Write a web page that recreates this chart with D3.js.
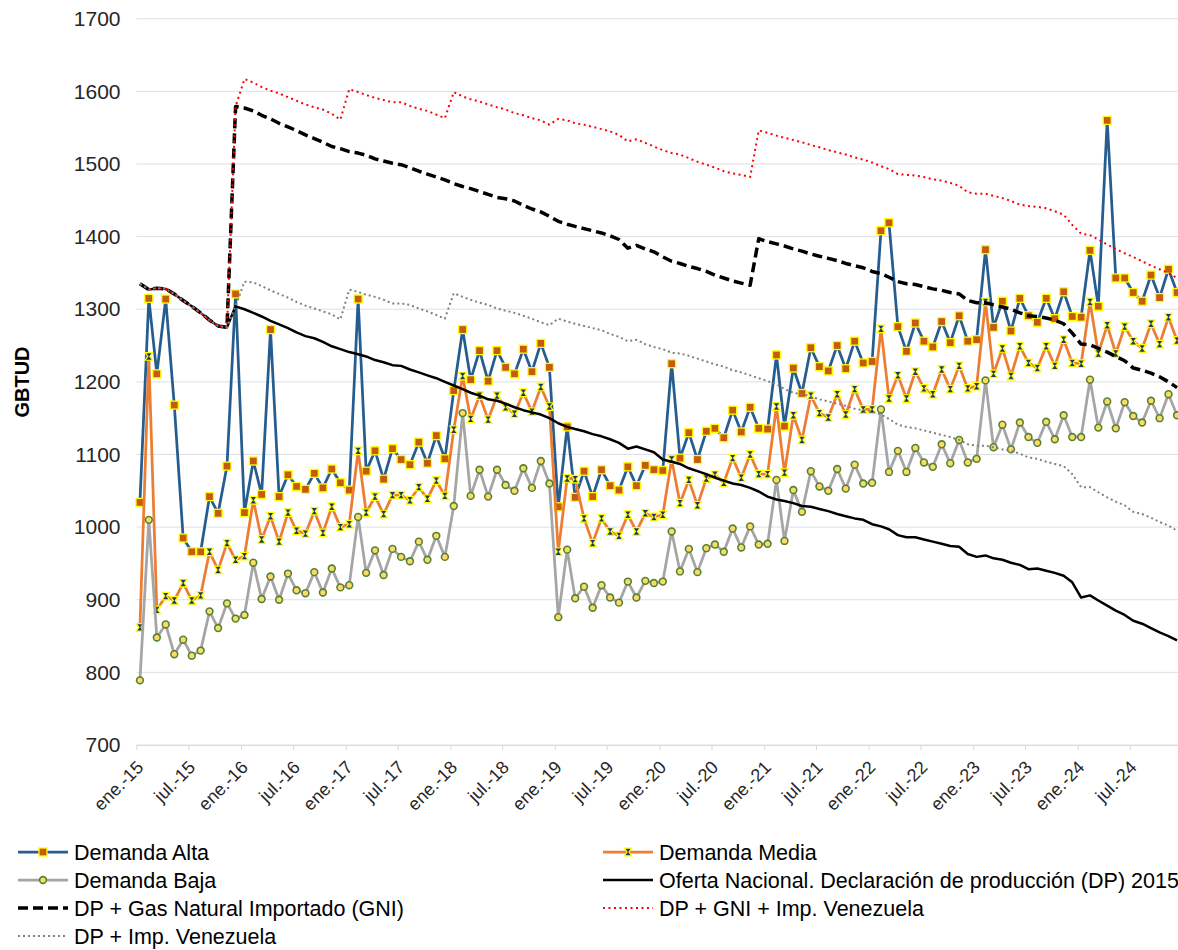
<!DOCTYPE html>
<html>
<head>
<meta charset="utf-8">
<script src="https://d3js.org/d3.v7.min.js"></script>
<style>
body { margin:0; background:#fff; }
text { font-family:"Liberation Sans", Arial, sans-serif; }
</style>
</head>
<body>
<svg id="chart"></svg>
<script>
// monthly values ene-15 .. dic-24 (GBTUD)
var demandaAlta = [1034,1315,1211,1314,1168,985,966,966,1042,1019,1084,1321,
1020,1091,1045,1272,1042,1072,1056,1052,1074,1054,1080,1061,
1051,1314,1077,1105,1066,1108,1093,1086,1117,1088,1126,1094,
1188,1272,1203,1243,1201,1243,1220,1211,1245,1214,1253,1220,
1028,1138,1041,1077,1042,1079,1057,1051,1083,1057,1085,1079,
1078,1225,1095,1130,1093,1132,1136,1123,1161,1131,1165,1136,
1135,1237,1139,1219,1184,1247,1221,1215,1250,1218,1256,1226,
1228,1408,1419,1276,1242,1281,1256,1248,1283,1254,1291,1256,
1258,1382,1275,1311,1270,1315,1291,1282,1315,1287,1324,1290,
1289,1381,1304,1560,1343,1343,1323,1311,1347,1316,1355,1323]

var demandaMedia = [862,1235,886,905,899,923,899,906,966,941,978,955,
960,1037,983,1015,980,1020,995,991,1022,992,1028,1000,
1004,1105,1020,1042,1018,1044,1044,1037,1055,1039,1064,1043,
1134,1208,1149,1181,1148,1181,1165,1156,1185,1159,1193,1166,
966,1067,1066,1012,978,1012,994,988,1017,994,1019,1014,
1017,1093,1033,1065,1030,1067,1072,1061,1095,1068,1100,1073,
1073,1166,1075,1154,1120,1181,1157,1151,1183,1155,1190,1162,
1162,1273,1177,1209,1177,1214,1191,1183,1217,1190,1222,1191,
1194,1310,1211,1246,1208,1249,1226,1219,1249,1222,1258,1226,
1225,1310,1239,1278,1239,1276,1256,1246,1280,1252,1289,1257]

var demandaBaja = [789,1010,848,866,825,845,823,830,884,861,895,874,
879,951,901,932,900,936,913,909,938,910,943,917,
920,1014,937,968,934,970,959,953,980,955,988,959,
1029,1157,1043,1079,1042,1079,1058,1050,1081,1054,1091,1060,
876,969,902,918,889,920,903,896,925,903,926,923,
925,994,939,970,938,971,976,966,998,972,1001,976,
977,1065,981,1051,1021,1077,1056,1050,1080,1053,1086,1060,
1061,1162,1076,1105,1076,1109,1089,1083,1114,1088,1120,1089,
1094,1202,1110,1141,1107,1144,1124,1116,1145,1121,1154,1124,
1124,1203,1137,1173,1136,1172,1153,1144,1174,1150,1183,1154]

var ofertaDP = [1335,1327,1329,1328,1321,1312,1304,1295,1285,1277,1275,1304,
1300,1295,1290,1284,1279,1274,1268,1263,1260,1255,1249,1245,
1241,1238,1235,1230,1227,1223,1222,1217,1213,1209,1205,1200,
1195,1190,1185,1181,1176,1174,1170,1165,1161,1158,1155,1150,
1143,1138,1135,1132,1128,1125,1121,1116,1108,1111,1107,1103,
1093,1090,1087,1081,1077,1073,1068,1064,1060,1058,1054,1049,
1042,1038,1036,1033,1029,1028,1025,1022,1018,1015,1012,1010,
1004,1001,997,989,986,986,983,980,977,974,973,963,
959,961,957,955,951,948,942,943,940,937,933,924,
903,906,899,892,885,879,871,867,861,855,850,844]

var dpGNI = [1335,1327,1329,1328,1321,1312,1304,1295,1285,1277,1275,1579,
1577,1573,1567,1562,1556,1551,1546,1540,1535,1530,1524,1521,
1517,1515,1512,1507,1504,1501,1499,1495,1490,1486,1482,1478,
1473,1469,1466,1462,1458,1454,1452,1449,1443,1438,1434,1428,
1421,1417,1414,1411,1408,1405,1401,1396,1384,1388,1383,1379,
1372,1366,1363,1359,1356,1352,1347,1343,1339,1336,1333,1397,
1393,1390,1387,1383,1380,1376,1373,1370,1367,1363,1360,1357,
1352,1349,1344,1338,1335,1334,1331,1328,1326,1323,1321,1312,
1309,1309,1306,1303,1300,1295,1291,1290,1288,1285,1280,1267,
1252,1251,1246,1241,1235,1229,1219,1216,1212,1207,1200,1192]

var dpGNIVen = [1335,1327,1329,1328,1321,1312,1304,1295,1285,1277,1275,1579,
1617,1612,1606,1601,1597,1592,1587,1582,1578,1575,1569,1561,
1603,1599,1595,1591,1588,1585,1585,1580,1576,1573,1568,1563,
1599,1593,1589,1586,1582,1578,1575,1570,1567,1563,1560,1554,
1562,1560,1556,1554,1551,1548,1545,1540,1531,1534,1529,1524,
1519,1515,1513,1508,1503,1499,1495,1490,1487,1485,1482,1546,
1543,1539,1536,1533,1530,1526,1523,1519,1516,1513,1509,1506,
1502,1497,1493,1486,1485,1484,1482,1479,1477,1474,1470,1461,
1459,1459,1456,1453,1449,1444,1442,1441,1439,1435,1430,1416,
1404,1402,1396,1389,1383,1377,1372,1366,1360,1355,1350,1343]

var dpVen = [1335,1327,1329,1328,1321,1312,1304,1295,1285,1277,1275,1304,
1338,1337,1332,1326,1321,1316,1310,1305,1301,1297,1293,1286,
1327,1324,1320,1317,1313,1308,1308,1306,1301,1297,1292,1287,
1322,1317,1313,1309,1306,1301,1298,1295,1291,1287,1282,1278,
1287,1283,1280,1277,1274,1271,1266,1262,1256,1258,1252,1248,
1245,1240,1239,1236,1232,1228,1224,1221,1216,1213,1209,1205,
1201,1197,1190,1185,1183,1180,1176,1173,1170,1167,1163,1161,
1159,1155,1149,1141,1138,1136,1133,1130,1127,1124,1120,1114,
1112,1112,1110,1107,1105,1101,1096,1094,1090,1087,1084,1073,
1055,1055,1048,1041,1035,1030,1021,1018,1013,1007,1002,995]

var yTicks = [700,800,900,1000,1100,1200,1300,1400,1500,1600,1700]
var tickLabels = ["ene.-15","jul.-15","ene.-16","jul.-16","ene.-17","jul.-17",
"ene.-18","jul.-18","ene.-19","jul.-19","ene.-20","jul.-20","ene.-21","jul.-21",
"ene.-22","jul.-22","ene.-23","jul.-23","ene.-24","jul.-24"]

var seriesNames = ["Demanda Alta","Demanda Media","Demanda Baja",
"Oferta Nacional. Declaración de producción (DP) 2015",
"DP + Gas Natural Importado (GNI)","DP + GNI + Imp. Venezuela","DP + Imp. Venezuela"]

var screen = {width:1178,height:950}
var plot = {left:136.5,top:18.7,bottom:745,right:1182.5}

var svg = d3.select("#chart")
    .attr("width",screen.width)
    .attr("height",screen.height)

// one date per month, points sit mid-month
var dates = demandaAlta.map(function(d,i){ return new Date(2015,i,13) })
var tickDates = tickLabels.map(function(d,i){ return new Date(2015,i*6,1) })

var xScale = d3.scaleTime()
    .domain([new Date(2015,0,1),new Date(2025,0,1)])
    .range([plot.left,plot.right])
var yScale = d3.scaleLinear()
    .domain([700,1700])
    .range([plot.bottom,plot.top])

var styles = [
  {name:seriesNames[0],data:demandaAlta,color:"#265D8F",width:2.75,marker:"square"},
  {name:seriesNames[1],data:demandaMedia,color:"#ED7D31",width:2.75,marker:"hourglass"},
  {name:seriesNames[2],data:demandaBaja,color:"#A5A5A5",width:2.75,marker:"circle"},
  {name:seriesNames[3],data:ofertaDP,color:"#000000",width:2.5},
  {name:seriesNames[4],data:dpGNI,color:"#000000",width:3.5,dash:"10,5"},
  {name:seriesNames[5],data:dpGNIVen,color:"#FF0000",width:2,dash:"2,3.5"},
  {name:seriesNames[6],data:dpVen,color:"#808080",width:2,dash:"2,3"}
]

//gridlines
svg.append("g")
   .selectAll("line")
   .data(yTicks)
   .enter()
   .append("line")
   .attr("x1",plot.left)
   .attr("x2",screen.width)
   .attr("y1",function(d){ return yScale(d) })
   .attr("y2",function(d){ return yScale(d) })
   .attr("stroke","#DCDFE6")
   .attr("stroke-width",1)

//y axis labels
var yAxis = d3.axisLeft(yScale).tickValues(yTicks).tickSize(0).tickPadding(16)
    .tickFormat(d3.format("d"))
var yG = svg.append("g")
   .attr("transform","translate("+plot.left+",0)")
   .call(yAxis)
yG.select(".domain").remove()
yG.selectAll("text")
   .attr("font-size","21px")
   .attr("font-family","Liberation Sans, Arial, sans-serif")
   .attr("fill","#262626")

//x axis
var xAxis = d3.axisBottom(xScale)
    .tickValues(tickDates)
    .tickFormat(function(d,i){ return tickLabels[i] })
    .tickSize(5)
var xG = svg.append("g")
   .attr("transform","translate(0,"+plot.bottom+")")
   .call(xAxis)
xG.select(".domain").attr("stroke","#D9D9D9").attr("d","M"+plot.left+",0.5H"+screen.width)
xG.selectAll(".tick line").attr("stroke","#D9D9D9")
xG.selectAll("text")
   .attr("font-size","18px")
   .attr("font-family","Liberation Sans, Arial, sans-serif")
   .attr("fill","#262626")
   .attr("text-anchor","end")
   .attr("x",0).attr("y",0).attr("dy","0.35em")
   .attr("transform","translate(3,19) rotate(-45)")

//y title
svg.append("text")
   .text("GBTUD")
   .attr("font-size","20px")
   .attr("font-weight","bold")
   .attr("text-anchor","middle")
   .attr("transform","translate(29,382) rotate(-90)")

var drawMarker = function(sel,type)
{
    if(type=="square")
    {
        sel.append("rect").attr("x",-4).attr("y",-4).attr("width",8).attr("height",8)
           .attr("fill","#C55A11").attr("stroke","#FFFF00").attr("stroke-width",1.3)
    }
    else if(type=="hourglass")
    {
        sel.append("path").attr("d","M-3.8,-3.8H3.8L1,0L3.8,3.8H-3.8L-1,0Z")
           .attr("fill","#1F3864").attr("stroke","#FFFF00").attr("stroke-width",1.2)
    }
    else if(type=="circle")
    {
        sel.append("circle").attr("r",3.4)
           .attr("fill","#FFD966").attr("stroke","#548235").attr("stroke-width",1.6)
    }
}

var line = d3.line()
    .x(function(d,i){ return xScale(dates[i]) })
    .y(function(d){ return yScale(d) })

var plotG = svg.append("g")
styles.forEach(function(s)
{
    var g = plotG.append("g")
    g.append("path")
     .datum(s.data)
     .attr("d",line)
     .attr("fill","none")
     .attr("stroke",s.color)
     .attr("stroke-width",s.width)
     .attr("stroke-linejoin","round")
     .attr("stroke-dasharray",s.dash ? s.dash : null)
    if(s.marker)
    {
        g.selectAll(".m")
         .data(s.data)
         .enter()
         .append("g")
         .attr("transform",function(d,i){ return "translate("+xScale(dates[i])+","+yScale(d)+")" })
         .each(function(){ drawMarker(d3.select(this),s.marker) })
    }
})

//legend, two columns
var legendPos = [[18,852],[603,852],[18,880],[603,880],[18,908],[603,908],[18,936]]
var legend = svg.append("g")
styles.forEach(function(s,i)
{
    var p = legendPos[i]
    var g = legend.append("g").attr("transform","translate("+p[0]+","+p[1]+")")
    g.append("line").attr("x1",0).attr("x2",50).attr("y1",0).attr("y2",0)
     .attr("stroke",s.color).attr("stroke-width",s.width)
     .attr("stroke-dasharray",s.dash ? s.dash : null)
    if(s.marker)
    {
        drawMarker(g.append("g").attr("transform","translate(25,0)"),s.marker)
    }
    g.append("text").text(s.name)
     .attr("x",56).attr("y",0).attr("dy","0.35em")
     .attr("font-size","21.5px")
     .attr("fill","#000")
})
</script>
</body>
</html>
